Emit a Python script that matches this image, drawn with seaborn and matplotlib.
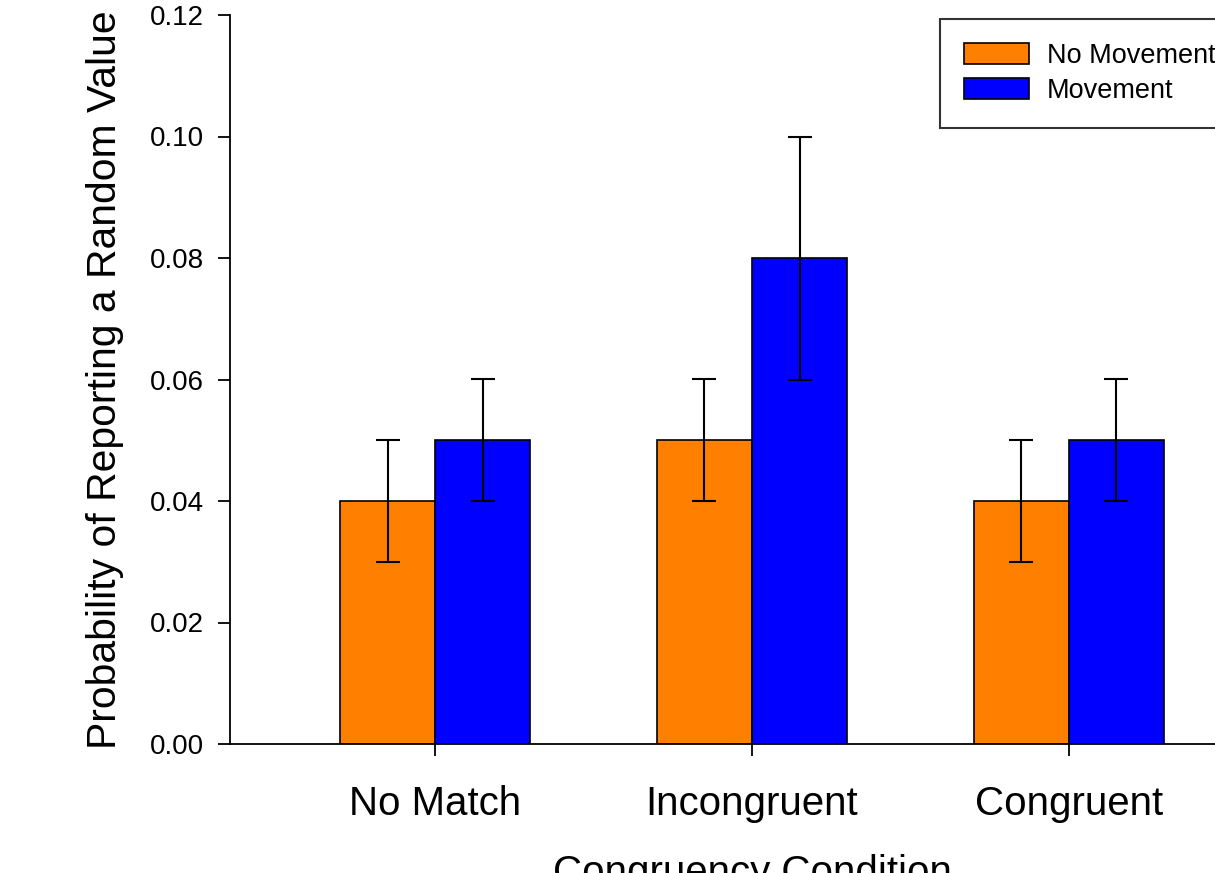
import matplotlib
matplotlib.use("Agg")
import matplotlib.pyplot as plt
import seaborn as sns
import pandas as pd
import numpy as np

categories = ["No Match", "Incongruent", "Congruent"]
groups = ["No Movement", "Movement"]
no_movement = [0.04, 0.05, 0.04]
movement = [0.05, 0.08, 0.05]
no_movement_err = [0.01, 0.01, 0.01]
movement_err = [0.01, 0.02, 0.01]
yticks = [0.00, 0.02, 0.04, 0.06, 0.08, 0.10, 0.12]

sns.set_theme(style="ticks")
plt.rcParams["font.family"] = ["Liberation Sans", "DejaVu Sans"]
plt.rcParams["text.color"] = "black"

df = pd.DataFrame({
    "Condition": categories * 2,
    "Group": [groups[0]] * 3 + [groups[1]] * 3,
    "Value": no_movement + movement,
    "Err": no_movement_err + movement_err,
})

W, H = 1215, 873
AX_L, AX_R, AX_T, AX_B = 230, 1274, 15, 744
fig = plt.figure(figsize=(W / 100, H / 100), dpi=100)
ax = fig.add_axes([AX_L / W, (H - AX_B) / H, (AX_R - AX_L) / W, (AX_B - AX_T) / H])

sns.barplot(data=df, x="Condition", y="Value", hue="Group", order=categories,
            hue_order=groups, palette=["#FF8000", "#0000FF"], width=0.6, gap=0,
            errorbar=None, edgecolor="black", linewidth=1.2, saturation=1, ax=ax)

# error bars at bar centres
for container, grp in zip(ax.containers, groups):
    sub = df[df["Group"] == grp].set_index("Condition").loc[categories]
    xs = [p.get_x() + p.get_width() / 2 for p in container.patches]
    ax.errorbar(xs, sub["Value"].values, yerr=sub["Err"].values, fmt="none",
                ecolor="black", elinewidth=1.5, capsize=8.3, capthick=1.5, zorder=5)

ax.set_xlim(-0.647, 2.647)
ax.set_ylim(0, 0.12)
ax.set_yticks(yticks)
ax.set_yticklabels([f"{v:.2f}" for v in yticks])
for s in ["top", "right"]:
    ax.spines[s].set_visible(False)
for s in ["left", "bottom"]:
    ax.spines[s].set_linewidth(1.3)
    ax.spines[s].set_color("black")
ax.tick_params(axis="y", direction="out", length=8.5, width=1.3, pad=10,
               labelsize=20, colors="black")
ax.tick_params(axis="x", direction="out", length=8.5, width=1.3, pad=21,
               labelsize=29, colors="black")
ax.set_ylabel("Probability of Reporting a Random Value", fontsize=29.4, labelpad=19,
              color="black")
ax.set_xlabel("Congruency Condition", fontsize=29, labelpad=22, color="black")

leg = ax.legend(loc="upper left",
                bbox_to_anchor=((940 - AX_L) / (AX_R - AX_L), 1 - (19 - AX_T) / (AX_B - AX_T)),
                fontsize=19.5, frameon=True, fancybox=False, edgecolor="black",
                handlelength=2.4, handleheight=0.8, handletextpad=0.67,
                labelspacing=0.33, borderpad=0.88, borderaxespad=0)
leg.get_frame().set_linewidth(1.5)
for t in leg.get_texts():
    t.set_color("black")
for h in leg.legend_handles:
    h.set_edgecolor("black")
    h.set_linewidth(1.2)

fig.savefig("out.png", dpi=100)
